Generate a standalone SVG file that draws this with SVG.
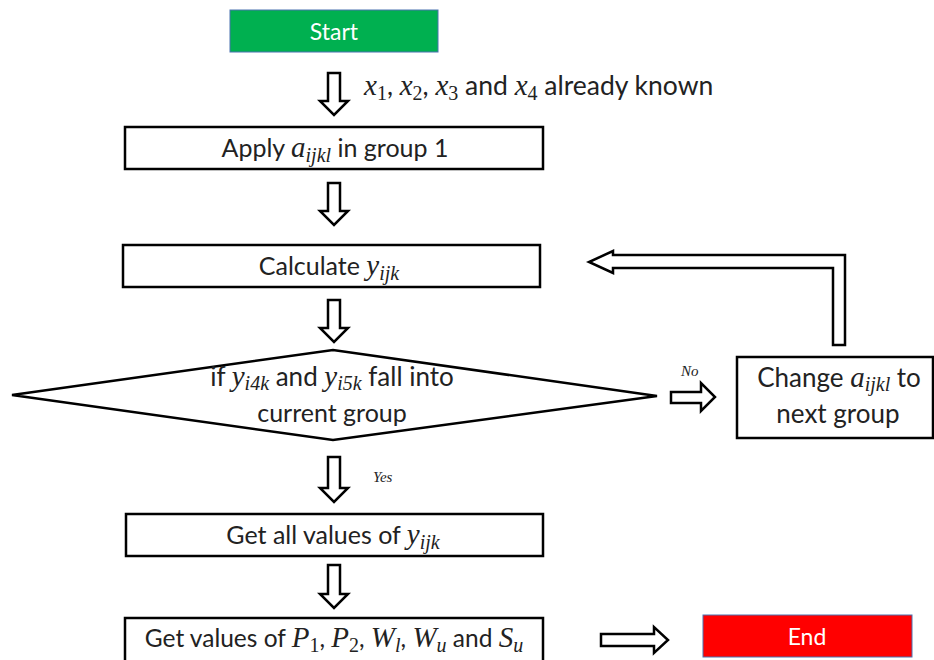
<svg xmlns="http://www.w3.org/2000/svg" width="934" height="660" viewBox="0 0 934 660">
<style>
.box{fill:#fff;stroke:#000;stroke-width:2.5}
.t{font-family:Lato,"Open Sans","Liberation Sans",sans-serif;font-size:25px;fill:#222}
.c{text-anchor:middle}
.m{font-family:"Liberation Serif","DejaVu Serif",serif;font-style:italic;font-size:29px}
.s{font-family:"Liberation Serif","DejaVu Serif",serif;font-style:italic;font-size:20px}
.n{font-family:"Liberation Serif","DejaVu Serif",serif;font-size:20px;font-style:normal}
.arr{fill:#fff;stroke:#000;stroke-width:2.5;stroke-linejoin:miter}
.lab{font-family:"Liberation Serif",serif;font-style:italic;font-size:15px;fill:#222}
</style>
<rect width="934" height="660" fill="#fff"/>
<g id="start">
<rect x="230" y="10" width="208" height="42" fill="#00b050" stroke="#4a72b0" stroke-width="1"/>
<text class="t c" x="334" y="40" style="fill:#fff;font-size:23px">Start</text>
</g>
<g id="known-label">
<text class="t" x="364" y="95" style="font-size:26.5px"><tspan class="m">x</tspan><tspan class="n" dy="5">1</tspan><tspan dy="-5">, </tspan><tspan class="m">x</tspan><tspan class="n" dy="5">2</tspan><tspan dy="-5">, </tspan><tspan class="m">x</tspan><tspan class="n" dy="5">3</tspan><tspan dy="-5"> and </tspan><tspan class="m">x</tspan><tspan class="n" dy="5">4</tspan><tspan dy="-5"> already known</tspan></text>
</g>
<g id="apply">
<rect class="box" x="125" y="127" width="418" height="42"/>
<text class="t c" x="335" y="157">Apply <tspan class="m">a</tspan><tspan class="s" dy="5">ijkl</tspan><tspan dy="-5"> in group 1</tspan></text>
</g>
<g id="calculate">
<rect class="box" x="123" y="245" width="417" height="42"/>
<text class="t c" x="329" y="275">Calculate <tspan class="m">y</tspan><tspan class="s" dy="5">ijk</tspan></text>
</g>
<g id="decision">
<polygon class="box" points="12,395 333,350 657,396 333,440"/>
<text class="t c" x="332" y="386" style="font-size:26px">if <tspan class="m">y</tspan><tspan class="s" dy="4">i4k</tspan><tspan dy="-4"> and </tspan><tspan class="m">y</tspan><tspan class="s" dy="4">i5k</tspan><tspan dy="-4"> fall into</tspan></text>
<text class="t c" x="332" y="422">current group</text>
</g>
<g id="change">
<rect class="box" x="737" y="357" width="196" height="81"/>
<text class="t c" x="839" y="387" style="font-size:26px">Change <tspan class="m">a</tspan><tspan class="s" dy="4">ijkl</tspan><tspan dy="-4"> to</tspan></text>
<text class="t c" x="838" y="423" style="font-size:26px">next group</text>
</g>
<g id="getall">
<rect class="box" x="126" y="514" width="417" height="42"/>
<text class="t c" x="333" y="544">Get all values of <tspan class="m">y</tspan><tspan class="s" dy="5">ijk</tspan></text>
</g>
<g id="getvalues">
<rect class="box" x="125" y="618" width="418" height="44"/>
<text class="t c" x="334" y="647" style="font-size:24.5px">Get values of <tspan class="m">P</tspan><tspan class="n" dy="5">1</tspan><tspan dy="-5">, </tspan><tspan class="m">P</tspan><tspan class="n" dy="5">2</tspan><tspan dy="-5">, </tspan><tspan class="m">W</tspan><tspan class="s" dy="5">l</tspan><tspan dy="-5">, </tspan><tspan class="m">W</tspan><tspan class="s" dy="5">u</tspan><tspan dy="-5"> and </tspan><tspan class="m">S</tspan><tspan class="s" dy="5">u</tspan></text>
</g>
<g id="end">
<rect x="703" y="615" width="209" height="42" fill="#ff0000" stroke="#4a72b0" stroke-width="1"/>
<text class="t c" x="807" y="645" style="fill:#fff;font-size:23px">End</text>
</g>
<g id="connectors">
<polygon class="arr" points="328,73 340,73 340,101 348,101 334,115 320,101 328,101"/>
<polygon class="arr" points="328,183 340,183 340,211 348,211 334,225 320,211 328,211"/>
<polygon class="arr" points="328,300 340,300 340,328 348,328 334,342 320,328 328,328"/>
<polygon class="arr" points="328,457 340,457 340,488 348,488 334,502 320,488 328,488"/>
<polygon class="arr" points="328,565 340,565 340,594 348,594 334,608 320,594 328,594"/>
<polygon class="arr" points="671,392 701,392 701,383 715,397 701,411 701,403 671,403"/>
<polygon class="arr" points="601,634 654,634 654,627 668,640 654,653 654,646 601,646"/>
<polygon class="arr" points="845,345 845,255 613,255 613,251 589,262 613,273 613,268 833,268 833,345"/>
<text class="lab" x="681" y="376">No</text>
<text class="lab" x="373" y="482">Yes</text>
</g>
</svg>
